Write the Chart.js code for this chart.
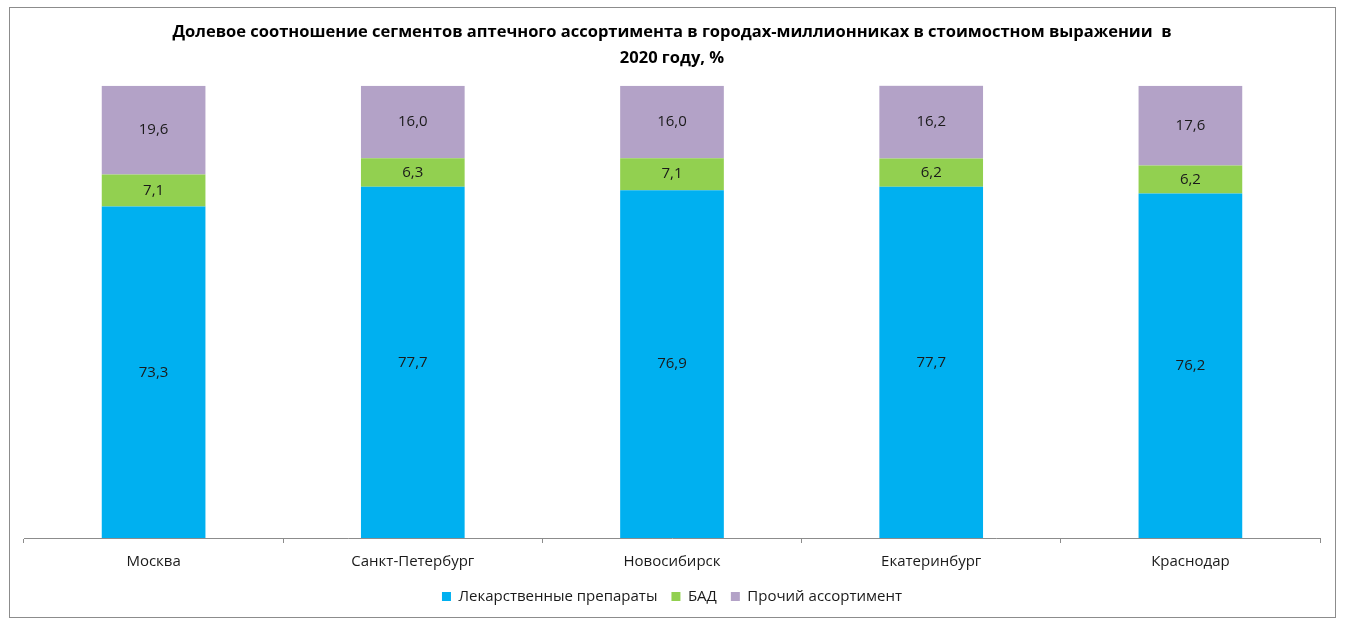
<!DOCTYPE html>
<html><head><meta charset="utf-8">
<script src="https://cdn.jsdelivr.net/npm/chart.js@4"></script>
<style>
html,body{margin:0;padding:0;background:#fff;}
#box{position:absolute;left:9px;top:7px;width:1327px;height:611px;border:1px solid #8c8c8c;box-sizing:border-box;}
#c{display:block;}
</style></head><body>
<div id="box"><canvas id="c" width="1325" height="609"></canvas></div>
<script>
const categories = ['Москва','Санкт-Петербург','Новосибирск','Екатеринбург','Краснодар'];
const drugs = [73.3, 77.7, 76.9, 77.7, 76.2];
const bad = [7.1, 6.3, 7.1, 6.2, 6.2];
const other = [19.6, 16.0, 16.0, 16.2, 17.6];
const seriesNames = ['Лекарственные препараты','БАД','Прочий ассортимент'];
const titleLines = ['Долевое соотношение сегментов аптечного ассортимента в городах-миллионниках в стоимостном выражении  в','2020 году, %'];

const FONT = '"Open Sans", Lato, sans-serif';

const labelPlugin = {
  id: 'segLabels',
  afterLayout(chart) {
    // pull legend slightly closer to the axis labels
    if (chart.legend) { chart.legend.top -= 6; chart.legend.bottom -= 6; }
  },
  afterDatasetsDraw(chart) {
    const ctx = chart.ctx;
    ctx.save();
    ctx.font = '15px ' + FONT;
    ctx.fillStyle = '#1a1a1a';
    ctx.textAlign = 'center';
    ctx.textBaseline = 'middle';
    chart.data.datasets.forEach((ds, i) => {
      const meta = chart.getDatasetMeta(i);
      meta.data.forEach((bar, j) => {
        const v = ds.data[j];
        const y = (bar.y + bar.base) / 2;
        ctx.fillText(v.toFixed(1).replace('.', ','), bar.x, y);
      });
    });
    ctx.restore();
  }
};

new Chart(document.getElementById('c'), {
  type: 'bar',
  data: {
    labels: categories,
    datasets: [
      {label: seriesNames[0], data: drugs, backgroundColor: '#00B0F0'},
      {label: seriesNames[1], data: bad, backgroundColor: '#92D050'},
      {label: seriesNames[2], data: other, backgroundColor: '#B3A2C7'}
    ]
  },
  options: {
    responsive: false,
    animation: false,
    layout: {padding: {left: 14, right: 15, top: 0, bottom: -3}},
    datasets: {bar: {barPercentage: 0.8, categoryPercentage: 0.5}},
    plugins: {
      title: {
        display: true,
        text: titleLines,
        font: {family: FONT, size: 16.5, weight: 'bold', lineHeight: 1.6},
        color: '#000',
        padding: {top: 11, bottom: 14}
      },
      legend: {
        position: 'bottom',
        labels: {
          font: {family: FONT, size: 15},
          color: '#1a1a1a',
          boxWidth: 9, boxHeight: 9,
          padding: 14
        }
      },
      tooltip: {enabled: false}
    },
    scales: {
      x: {
        stacked: true,
        grid: {display: true, drawOnChartArea: false, drawTicks: true, tickLength: 5, color: '#8c8c8c', offset: true},
        border: {display: true, color: '#8c8c8c'},
        ticks: {font: {family: FONT, size: 15}, color: '#1a1a1a', padding: 10}
      },
      y: {
        stacked: true, display: false, min: 0, max: 100
      }
    }
  },
  plugins: [labelPlugin]
});
</script>
</body></html>
